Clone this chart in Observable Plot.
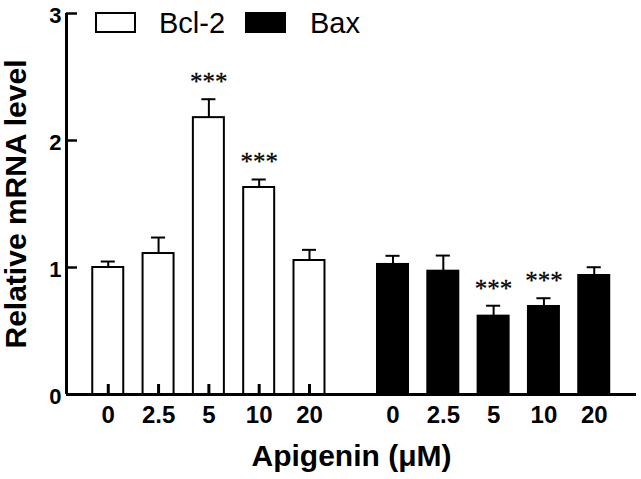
<!DOCTYPE html>
<html>
<head>
<meta charset="utf-8">
<script src="https://cdn.jsdelivr.net/npm/d3@7"></script>
<script src="https://cdn.jsdelivr.net/npm/@observablehq/plot@0.6"></script>
<style>
  body { margin: 0; background: #fff; }
  #wrap { position: relative; width: 641px; height: 479px; }
  #legend { position: absolute; left: 0; top: 0; }
</style>
</head>
<body>
<div id="wrap"></div>
<script>
// ---- data ----
const doses = ["0", "2.5", "5", "10", "20"];
const genes = ["Bcl-2", "Bax"];
const bcl2Mean = [1.00, 1.11, 2.18, 1.63, 1.055];
const bcl2Err  = [0.047, 0.126, 0.145, 0.063, 0.084];
const baxMean  = [1.024, 0.971, 0.617, 0.693, 0.937];
const baxErr   = [0.068, 0.123, 0.082, 0.065, 0.065];
const bcl2Sig  = ["", "", "***", "***", ""];
const baxSig   = ["", "", "***", "***", ""];
const yTicks   = [0, 1, 2, 3];

// ---- layout ----
const GROUP_OFFSET = 5.66;   // slot distance between the two gene groups
const HALF = 0.308;          // half bar width in slot units
const CAP = 0.14;            // half error-cap width in slot units
const X0 = -0.83, X1 = 10.5;

const means = [bcl2Mean, baxMean], errs = [bcl2Err, baxErr], sigs = [bcl2Sig, baxSig];
const rows = genes.flatMap((g, gi) => doses.map((d, i) => ({
  gene: g, dose: d, pos: gi * GROUP_OFFSET + i,
  mean: means[gi][i], err: errs[gi][i], sig: sigs[gi][i]
})));

const font = "'Liberation Sans', Arial, Helvetica, sans-serif";

const chart = Plot.plot({
  width: 641, height: 479,
  marginLeft: 66, marginRight: 5, marginTop: 13, marginBottom: 85,
  x: {type: "linear", domain: [X0, X1], axis: null},
  y: {domain: [0, 3], axis: null},
  style: {fontFamily: font, background: "white", overflow: "visible", color: "#000"},
  marks: [
    // bars
    Plot.rectY(rows.filter(d => d.gene === "Bcl-2"), {
      x1: d => d.pos - HALF, x2: d => d.pos + HALF, y1: 0, y2: "mean",
      fill: "#fff", stroke: "#000", strokeWidth: 2
    }),
    Plot.rectY(rows.filter(d => d.gene === "Bax"), {
      x1: d => d.pos - HALF, x2: d => d.pos + HALF, y1: 0, y2: "mean",
      fill: "#000", stroke: "#000", strokeWidth: 2
    }),
    // error bars (upper only)
    Plot.ruleX(rows, {x: "pos", y1: "mean", y2: d => d.mean + d.err, stroke: "#000", strokeWidth: 2}),
    Plot.ruleY(rows, {y: d => d.mean + d.err, x1: d => d.pos - CAP, x2: d => d.pos + CAP, stroke: "#000", strokeWidth: 2}),
    // inward x ticks at bar centres
    Plot.ruleX(rows, {x: "pos", y1: 0, y2: 0, insetTop: -10, stroke: "#000", strokeWidth: 3}),
    // baseline and y axis line
    Plot.ruleY([0], {stroke: "#000", strokeWidth: 3}),
    Plot.ruleX([X0], {y1: 0, y2: 3, stroke: "#000", strokeWidth: 3}),
    // inward y ticks
    Plot.ruleY(yTicks, {x1: X0, x2: X0, insetRight: -11, stroke: "#000", strokeWidth: 2.5}),
    // y tick labels
    Plot.text(yTicks, {x: X0, y: d => d, text: d => String(d), textAnchor: "end", dx: -5, dy: 2,
      fontSize: 22, fontWeight: "bold", fill: "#000"}),
    // x tick labels
    Plot.text(rows, {x: "pos", y: 0, text: "dose", dy: 28, lineAnchor: "bottom",
      fontSize: 24, fontWeight: "bold", fill: "#000"}),
    // significance stars
    Plot.text(rows.filter(d => d.sig), {x: "pos", y: d => d.mean + d.err, text: "sig",
      dy: -9, lineAnchor: "bottom", fontSize: 25, fontFamily: "'Liberation Serif', 'Times New Roman', serif",
      fill: "#000", stroke: "#000", strokeWidth: 0.3}),
    // axis titles
    Plot.text(["Apigenin (μM)"], {frameAnchor: "bottom", dy: 71, lineAnchor: "bottom",
      fontSize: 30, fontWeight: "bold", fill: "#000"}),
    Plot.text(["Relative mRNA level"], {frameAnchor: "left", textAnchor: "middle", rotate: -90, dx: -50,
      fontSize: 30, fontWeight: "bold", fill: "#000"})
  ]
});

const wrap = document.getElementById("wrap");
wrap.appendChild(chart);

// ---- legend (overlay) ----
const legendItems = [
  {label: genes[0], fill: "#fff", bx: 96, tx: 159},
  {label: genes[1], fill: "#000", bx: 246, tx: 310}
];
const ns = "http://www.w3.org/2000/svg";
const lg = document.createElementNS(ns, "svg");
lg.setAttribute("id", "legend");
lg.setAttribute("width", 641);
lg.setAttribute("height", 45);
legendItems.forEach(it => {
  const r = document.createElementNS(ns, "rect");
  r.setAttribute("x", it.bx); r.setAttribute("y", 13);
  r.setAttribute("width", 39); r.setAttribute("height", 19);
  r.setAttribute("fill", it.fill); r.setAttribute("stroke", "#000"); r.setAttribute("stroke-width", 2);
  lg.appendChild(r);
  const t = document.createElementNS(ns, "text");
  t.setAttribute("x", it.tx); t.setAttribute("y", 33);
  t.setAttribute("font-family", font); t.setAttribute("font-size", 29);
  t.setAttribute("fill", "#000");
  t.textContent = it.label;
  lg.appendChild(t);
});
wrap.appendChild(lg);
</script>
</body>
</html>
